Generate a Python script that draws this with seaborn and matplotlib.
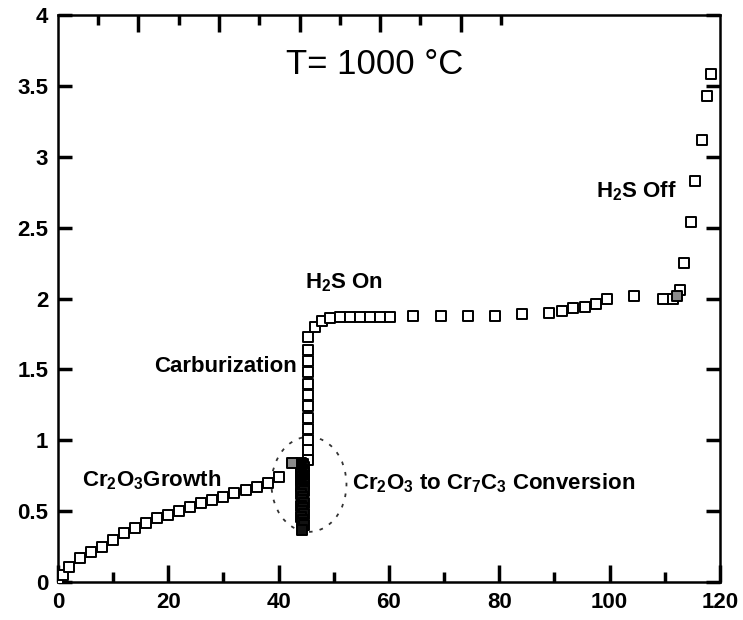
import numpy as np
import pandas as pd
import matplotlib
matplotlib.use("Agg")
import matplotlib.pyplot as plt
from matplotlib.patches import Ellipse
from matplotlib.font_manager import FontProperties
import seaborn as sns

# --- weight-gain data (time in h, mass gain) ---
growth_t = [0, 1, 2, 4, 6, 8, 10, 12, 14, 16, 18, 20, 22, 24, 26, 28, 30, 32, 34, 36, 38, 40]
growth_w = [0.0, 0.05, 0.11, 0.17, 0.21, 0.25, 0.30, 0.35, 0.38, 0.42, 0.45, 0.475,
            0.50, 0.53, 0.56, 0.58, 0.60, 0.63, 0.65, 0.67, 0.70, 0.74]

# oxide-to-carbide conversion (dense drop right after 44 h)
conv_t = [44.1, 44.5, 44.2, 44.6, 44.1, 44.5, 44.2, 44.6, 44.1, 44.5, 44.2, 44.6,
          44.1, 44.5, 44.2, 44.6, 44.1, 44.5, 44.2, 44.6, 44.1, 44.5, 44.2, 44.6,
          44.1, 44.5, 44.2, 44.6, 44.1, 44.5, 44.2, 44.6, 44.3]
conv_w = [0.84, 0.83, 0.82, 0.81, 0.80, 0.79, 0.78, 0.77, 0.76, 0.75, 0.74, 0.73,
          0.72, 0.71, 0.70, 0.69, 0.68, 0.67, 0.66, 0.64, 0.62, 0.60, 0.58, 0.56,
          0.54, 0.52, 0.50, 0.48, 0.46, 0.44, 0.42, 0.40, 0.37]

# carburization and plateau under H2S
carb_t = [45.3, 45.3, 45.3, 45.3, 45.3, 45.3, 45.3, 45.3, 45.3, 45.3, 45.3, 45.3,
          46.6, 47.8, 49.3, 51.1, 52.9, 54.7, 56.5, 58.3, 60.1]
carb_w = [0.86, 0.93, 1.00, 1.08, 1.16, 1.24, 1.32, 1.40, 1.48, 1.56, 1.64, 1.73,
          1.80, 1.84, 1.86, 1.87, 1.87, 1.87, 1.87, 1.87, 1.87]

late_t = [64.3, 69.4, 74.3, 79.2, 84.2, 89.1, 91.3, 93.3, 95.5, 97.5, 99.5, 104.5,
          109.6, 111.4, 112.7, 113.4, 114.7, 115.4, 116.7, 117.6, 118.3]
late_w = [1.88, 1.88, 1.88, 1.88, 1.89, 1.90, 1.91, 1.93, 1.94, 1.96, 2.00, 2.02,
          2.00, 2.00, 2.06, 2.25, 2.54, 2.83, 3.12, 3.43, 3.58]

# shaded markers
gray_t = [42.4, 112.3]
gray_w = [0.84, 2.02]

# axis ticks
x_major = [0, 20, 40, 60, 80, 100, 120]
x_minor = [10, 30, 50, 70, 90, 110]
y_major = [0, 0.5, 1, 1.5, 2, 2.5, 3, 3.5, 4]
y_labels = ["0", "0.5", "1", "1.5", "2", "2.5", "3", "3.5", "4"]

df_open = pd.DataFrame({
    "t": growth_t + carb_t + late_t,
    "w": growth_w + carb_w + late_w,
})
df_conv = pd.DataFrame({"t": conv_t, "w": conv_w})
df_gray = pd.DataFrame({"t": gray_t, "w": gray_w})

sns.set_theme(style="ticks")
plt.rcParams["font.family"] = ["Liberation Sans", "DejaVu Sans"]
plt.rcParams["text.color"] = "black"
plt.rcParams["axes.labelcolor"] = "black"
plt.rcParams["xtick.color"] = "black"
plt.rcParams["ytick.color"] = "black"
plt.rcParams["mathtext.fontset"] = "custom"
plt.rcParams["mathtext.rm"] = "Liberation Sans:bold"
plt.rcParams["mathtext.bf"] = "Liberation Sans:bold"
plt.rcParams["mathtext.it"] = "Liberation Sans:bold"
plt.rcParams["mathtext.default"] = "bf"

fig = plt.figure(figsize=(7.43, 6.2), dpi=100)
ax = fig.add_axes([0.078, 0.061, 0.891, 0.915])

sns.scatterplot(data=df_open, x="t", y="w", marker="s", s=52, facecolor="white",
                edgecolor="black", linewidth=1.4, ax=ax, zorder=3)
sns.scatterplot(data=df_conv, x="t", y="w", marker="s", s=52, facecolor="#111111",
                edgecolor="black", linewidth=1.4, ax=ax, zorder=4)
sns.scatterplot(data=df_gray, x="t", y="w", marker="s", s=55, facecolor="#8a8a8a",
                edgecolor="black", linewidth=1.4, ax=ax, zorder=4)

ax.set_xlim(0, 120)
ax.set_ylim(0, 4)
ax.set_xlabel("")
ax.set_ylabel("")
ax.set_xticks(x_major)
ax.set_xticks(x_minor, minor=True)
ax.set_yticks(y_major)
ax.set_yticklabels(y_labels)

tick_font = FontProperties(family="Liberation Sans", weight="bold", size=16)
for lab in ax.get_xticklabels() + ax.get_yticklabels():
    lab.set_fontproperties(tick_font)
    lab.set_color("black")

ax.tick_params(axis="x", which="major", direction="in", length=12.5, width=2.5,
               pad=7, colors="black", bottom=True)
ax.tick_params(axis="x", which="minor", direction="in", length=7, width=2.5,
               colors="black", bottom=True)
ax.tick_params(axis="y", which="major", direction="in", length=10, width=2.5,
               pad=7, colors="black", left=True, right=True)

for side in ["left", "right", "top", "bottom"]:
    ax.spines[side].set_visible(True)
    ax.spines[side].set_linewidth(1.8)
    ax.spines[side].set_color("black")

# secondary scale marks along the top edge
xt = ax.get_xaxis_transform()   # x in data, y in axes fraction
top_step = 14.6
top_major = top_step * np.arange(1, 6)
top_minor = top_step * (np.arange(0, 6) + 0.5)
ax.vlines(top_major, 1 - 0.030, 1, transform=xt, colors="black", linewidth=2.5,
          clip_on=False, zorder=5)
ax.vlines(top_minor, 1 - 0.018, 1, transform=xt, colors="black", linewidth=2.5,
          clip_on=False, zorder=5)

# annotations
ax.text(57.4, 3.65, "T= 1000 °C", fontsize=25, ha="center", va="center",
        family="Liberation Sans", color="black")
bold = dict(fontsize=16, fontweight="bold", family="Liberation Sans", va="center",
            color="black")
ax.text(97.6, 2.76, r"H$_2$S Off", ha="left", **bold)
ax.text(44.7, 2.11, r"H$_2$S On", ha="left", **bold)
ax.text(43.3, 1.52, "Carburization", ha="right", **bold)
ax.text(4.3, 0.72, r"Cr$_2$O$_3$Growth", ha="left", **bold)
ax.text(53.3, 0.70, r"Cr$_2$O$_3$ to Cr$_7$C$_3$ Conversion", ha="left", **bold)

ax.add_patch(Ellipse((45.5, 0.69), width=13.6, height=0.67, fill=False,
                     edgecolor="#333333", linewidth=1.3, linestyle=(0, (2, 4)),
                     zorder=2))

fig.savefig("out.png", dpi=100)
